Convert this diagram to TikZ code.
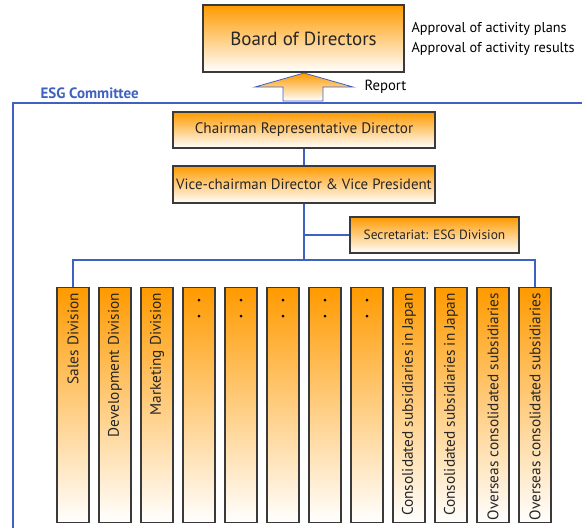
\documentclass[tikz,border=0pt]{standalone}
\usepackage{fontspec}
\setmainfont{PT Sans}
\usepackage{tikz}
\usetikzlibrary{calc}

\definecolor{esgblue}{HTML}{3F62C0}
\definecolor{esgorange}{HTML}{FF9A00}
\definecolor{esgedge}{HTML}{3A3A3A}

\tikzset{
  orgbox/.style={draw=esgedge, line width=1.1pt, top color=esgorange, bottom color=white,
    inner sep=0pt, align=center, text=black!85},
  colbox/.style={orgbox, minimum width=32, minimum height=235},
  link/.style={esgblue, line width=1.8pt}
}

\begin{document}
\begin{tikzpicture}[x=1pt,y=-1pt]
          \useasboundingbox (0,0) rectangle (582,528);
          % committee frame
          \draw[esgblue, line width=2.4pt] (582,103) -- (13,103) -- (13,530);
          \node[anchor=west, text=esgblue, font=\fontsize{15}{17}\selectfont\bfseries] (esg) at (37,93) {ESG Committee};
          % board
          \node[orgbox, minimum width=201, minimum height=67, font=\fontsize{19}{22}\selectfont] (board) at (303.5,38.5) {Board of Directors};
          \node[anchor=west, align=left, font=\fontsize{14.3}{20}\selectfont] (approval) at (408,39) {Approval of activity plans\\Approval of activity results};
          \draw[esgblue, line width=0.8pt, top color=esgorange, bottom color=white]
            (283,101) -- (283,87) -- (255,87) -- (304,73) -- (353,87) -- (323,87) -- (323,101) -- cycle;
          \node[anchor=west, font=\fontsize{14.7}{17}\selectfont] (report) at (361,87) {Report};
          % management
          \node[orgbox, minimum width=262, minimum height=36, font=\fontsize{15.2}{17}\selectfont] (chair) at (304,130) {Chairman Representative Director};
          \node[orgbox, minimum width=262, minimum height=37, font=\fontsize{14.9}{17}\selectfont] (vice) at (304,184.5) {Vice-chairman Director \& Vice President};
          \node[orgbox, minimum width=169, minimum height=36, font=\fontsize{13.4}{15}\selectfont] (sec) at (434.5,235) {Secretariat: ESG Division};
          \coordinate (bus) at (304,260);
          % divisions
          \foreach \name [count=\i] in {Sales Division, Development Division, Marketing Division,
              {}, {}, {}, {}, {},
              Consolidated subsidiaries in Japan, Consolidated subsidiaries in Japan,
              Overseas consolidated subsidiaries, Overseas consolidated subsidiaries} {
            \node[colbox, anchor=north] (col\i) at ({73+42*(\i-1)},287) {};
            \node[rotate=90, anchor=east, inner sep=0pt, text=black!85, font=\fontsize{15.3}{17}\selectfont] at ($(col\i.north)+(0,6)$) {\name};
          }
          \foreach \i in {4,...,8} {
            \fill ($(col\i.north)+(0,13)$) circle (1.5);
            \fill ($(col\i.north)+(0,29)$) circle (1.5);
          }
          % connectors
          \draw[link] (chair.south) -- (vice.north);
          \draw[link] (vice.south) -- (bus);
          \draw[link] (sec.west) -- (sec.west -| vice.south);
          \draw[link] (col1.north) |- (bus) -| (col12.north);
        \end{tikzpicture}
\end{document}
